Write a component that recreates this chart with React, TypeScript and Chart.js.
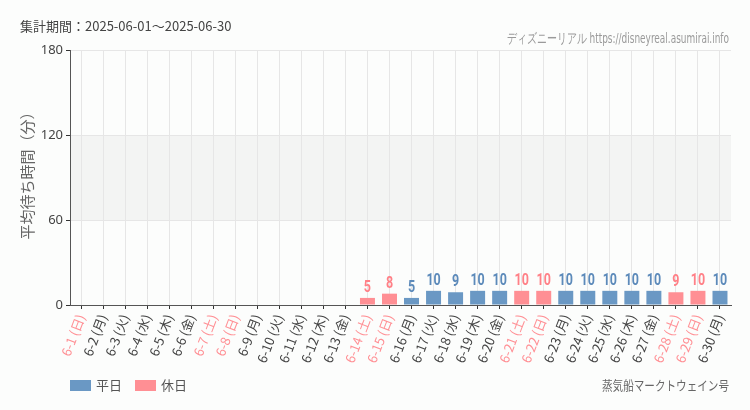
import React, { useEffect, useRef } from 'react';
import { Chart, registerables } from 'chart.js';

Chart.register(...registerables);

// date labels, weekday names and the average wait (minutes) for each day
const dates = [
  '6-1', '6-2', '6-3', '6-4', '6-5', '6-6', '6-7', '6-8', '6-9', '6-10',
  '6-11', '6-12', '6-13', '6-14', '6-15', '6-16', '6-17', '6-18', '6-19', '6-20',
  '6-21', '6-22', '6-23', '6-24', '6-25', '6-26', '6-27', '6-28', '6-29', '6-30',
];
const weekdays = [
  '日', '月', '火', '水', '木', '金', '土', '日', '月', '火',
  '水', '木', '金', '土', '日', '月', '火', '水', '木', '金',
  '土', '日', '月', '火', '水', '木', '金', '土', '日', '月',
];
const waitTimes = [
  0, 0, 0, 0, 0, 0, 0, 0, 0, 0,
  0, 0, 0, 5, 8, 5, 10, 9, 10, 10,
  10, 10, 10, 10, 10, 10, 10, 9, 10, 10,
];
const yTicks = [0, 60, 120, 180];
const seriesNames = ['平日', '休日'];

const BLUE = 'rgb(106, 152, 196)';
const PINK = 'rgb(255, 143, 148)';
const BLUE_TEXT = 'rgb(92, 138, 186)';
const PINK_TEXT = 'rgb(255, 128, 135)';
const CJK = '"Noto Sans CJK JP", "Noto Sans", sans-serif';
const NARROW = '"Liberation Sans Narrow", "DejaVu Sans Condensed", sans-serif';

const isHoliday = weekdays.map((w) => w === '土' || w === '日');
const labels = dates.map((d, i) => `${d} (${weekdays[i]})`);

const decorPlugin = {
  id: 'decor',
  beforeDraw(chart: any) {
    const { ctx, chartArea, scales } = chart;
    ctx.save();
    ctx.fillStyle = '#fcfdfc';
    ctx.fillRect(0, 0, chart.width, chart.height);
    // light band between 60 and 120
    const y1 = scales.y.getPixelForValue(120);
    const y2 = scales.y.getPixelForValue(60);
    ctx.fillStyle = '#f3f4f3';
    ctx.fillRect(chartArea.left, y1, chartArea.right - chartArea.left, y2 - y1);
    ctx.restore();
  },
  afterDatasetsDraw(chart: any) {
    const { ctx } = chart;
    chart.data.datasets.forEach((ds: any, di: number) => {
      const meta = chart.getDatasetMeta(di);
      meta.data.forEach((el: any, i: number) => {
        const v = ds.data[i];
        if (v == null || v <= 0) return;
        ctx.save();
        ctx.translate(el.x, el.y - 2);
        ctx.scale(0.78, 1);
        ctx.font = `bold 16px Roboto, sans-serif`;
        ctx.textAlign = 'center';
        ctx.textBaseline = 'bottom';
        ctx.fillStyle = di === 0 ? BLUE_TEXT : PINK_TEXT;
        ctx.fillText(String(Math.round(v)), 0, 0);
        ctx.restore();
      });
    });
  },
  afterDraw(chart: any) {
    const { ctx } = chart;
    ctx.save();
    ctx.textBaseline = 'middle';

    ctx.fillStyle = '#444';
    ctx.font = `13px ${CJK}`;
    ctx.textAlign = 'left';
    ctx.fillText('集計期間：2025-06-01～2025-06-30', 20, 26);

    ctx.fillStyle = '#9a9a9a';
    ctx.font = `14px ${NARROW}`;
    ctx.textAlign = 'right';
    ctx.fillText('ディズニーリアル https://disneyreal.asumirai.info', 729, 39, 222);

    ctx.fillStyle = '#666';
    ctx.font = `13px ${CJK}`;
    ctx.fillText('蒸気船マークトウェイン号', 729, 385, 127);

    // y axis title
    ctx.save();
    ctx.translate(27, 172);
    ctx.rotate(-Math.PI / 2);
    ctx.textAlign = 'center';
    ctx.font = `15px ${CJK}`;
    ctx.fillStyle = '#666';
    ctx.fillText('平均待ち時間（分）', 0, 0);
    ctx.restore();

    // legend
    const items = [
      { x: 70, color: BLUE, text: seriesNames[0] },
      { x: 135, color: PINK, text: seriesNames[1] },
    ];
    ctx.textAlign = 'left';
    ctx.font = `13px ${CJK}`;
    items.forEach((it) => {
      ctx.fillStyle = it.color;
      ctx.fillRect(it.x, 380, 21, 11);
      ctx.fillStyle = '#555';
      ctx.fillText(it.text, it.x + 26, 385);
    });
    ctx.restore();
  },
};

const App: React.FC = () => {
  const canvasRef = useRef<HTMLCanvasElement | null>(null);

  useEffect(() => {
    if (!canvasRef.current) return;
    const ctx = canvasRef.current.getContext('2d');
    if (!ctx) return;

    const chart = new Chart(ctx, {
      type: 'bar',
      data: {
        labels,
        datasets: [
          {
            label: seriesNames[0],
            data: waitTimes.map((v, i) => (isHoliday[i] ? null : v)),
            backgroundColor: BLUE,
            borderWidth: 0,
            grouped: false,
            barPercentage: 0.68,
            categoryPercentage: 1,
          },
          {
            label: seriesNames[1],
            data: waitTimes.map((v, i) => (isHoliday[i] ? v : null)),
            backgroundColor: PINK,
            borderWidth: 0,
            grouped: false,
            barPercentage: 0.68,
            categoryPercentage: 1,
          },
        ],
      },
      options: {
        animation: false,
        responsive: false,
        layout: { padding: { left: 0, right: 19, top: 50, bottom: 0 } },
        plugins: {
          legend: { display: false },
          tooltip: { enabled: false },
        },
        scales: {
          x: {
            offset: true,
            grid: {
              color: '#e6e6e6',
              offset: false,
              tickColor: '#333',
              tickLength: 4,
            },
            border: { color: '#555', width: 1 },
            ticks: {
              autoSkip: false,
              minRotation: 69,
              maxRotation: 69,
              padding: 3,
              font: { family: CJK, size: 13 },
              color: (c: any) => (isHoliday[c.index] ? PINK : '#444'),
            },
            afterFit: (s: any) => {
              s.height = 105;
            },
          },
          y: {
            min: 0,
            max: 180,
            afterBuildTicks: (s: any) => {
              s.ticks = yTicks.map((v) => ({ value: v }));
            },
            grid: { color: '#e6e6e6', tickColor: '#333', tickLength: 4 },
            border: { color: '#555', width: 1 },
            ticks: {
              padding: 3,
              color: '#444',
              font: { family: '"Noto Sans", sans-serif', size: 13 },
            },
            afterFit: (s: any) => {
              s.width = 70;
            },
          },
        },
      },
      plugins: [decorPlugin],
    });

    return () => {
      chart.destroy();
    };
  }, []);

  return (
    <div style={{ position: 'fixed', left: 0, top: 0, width: 750, height: 410 }}>
      <canvas ref={canvasRef} width={750} height={410} style={{ width: 750, height: 410 }} />
    </div>
  );
};

export default App;
